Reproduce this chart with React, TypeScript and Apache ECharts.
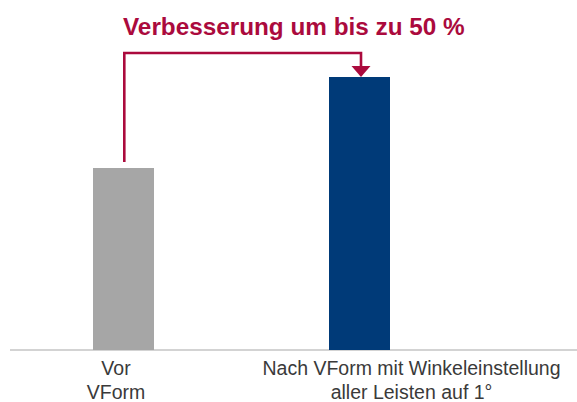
import React, { useEffect, useRef } from "react";
import * as echarts from "echarts";

const categories: string[] = ["Vor\nVForm", "Nach VForm mit Winkeleinstellung\naller Leisten auf 1°"];
const values: number[] = [100, 150];
const barColors: string[] = ["#a6a6a6", "#003a78"];
const titleText = "Verbesserung um bis zu 50 %";

const RED = "#ab0a3d";
const FONT = "Liberation Sans, Arial, sans-serif";

// per-category horizontal shift of the label text (the reference's labels are not centred on the bars)
const labelPad: number[][] = [
  [0, 15, 0, 0],
  [0, 0, 0, 104],
];

export default function App() {
  const ref = useRef<HTMLDivElement>(null);
  useEffect(() => {
    document.body.style.margin = "0";
    if (!ref.current) return;
    const chart = echarts.init(ref.current, null, { renderer: "svg" });
    const baseLine = {
      type: "line",
      shape: { x1: 10, y1: 350, x2: 577, y2: 350 },
      style: { stroke: "#c4c4c4", lineWidth: 1.5 },
    };
    chart.setOption({
      animation: false,
      backgroundColor: "#ffffff",
      textStyle: { fontFamily: FONT },
      title: {
        text: titleText,
        left: 123,
        top: 14.5,
        padding: 0,
        textStyle: { color: RED, fontSize: 24.3, fontWeight: "bold", fontFamily: FONT },
      },
      grid: { left: 5.5, width: 472, top: 77, bottom: 52, containLabel: false, outerBoundsMode: "none" },
      xAxis: {
        type: "category",
        data: categories,
        axisLine: { show: false },
        axisTick: { show: false },
        axisLabel: {
          interval: 0,
          margin: 6,
          formatter: (v: string) => {
            const idx = categories.indexOf(v);
            return v
              .split("\n")
              .map((line) => `{p${idx}|${line}}`)
              .join("\n");
          },
          rich: {
            p0: { color: "#3a3a3a", fontSize: 19.5, lineHeight: 24, fontFamily: FONT, padding: labelPad[0] },
            p1: { color: "#3a3a3a", fontSize: 19.5, lineHeight: 24, fontFamily: FONT, padding: labelPad[1] },
          },
        },
      },
      yAxis: { type: "value", min: 0, max: 150, show: false, splitLine: { show: false } },
      series: [
        {
          type: "bar",
          barWidth: 61,
          data: values.map((v, i) => ({ value: v, itemStyle: { color: barColors[i] } })),
        },
      ],
      graphic: [baseLine],
    });
    const p1 = chart.convertToPixel({ seriesIndex: 0 }, [0, values[0]]) as number[];
    const p2 = chart.convertToPixel({ seriesIndex: 0 }, [1, values[1]]) as number[];
    const lineY = 53;
    const ax = p2[0] + 1.5;
    chart.setOption({
      graphic: [
        baseLine,
        {
          type: "polyline",
          shape: { points: [[p1[0] + 0.8, p1[1] - 6], [p1[0] + 0.8, lineY], [ax, lineY], [ax, p2[1] - 10]] },
          style: { stroke: RED, lineWidth: 2.6, fill: "none" },
        },
        {
          type: "polygon",
          shape: { points: [[ax - 9.5, p2[1] - 11], [ax + 9.5, p2[1] - 11], [ax, p2[1]]] },
          style: { fill: RED },
        },
      ],
    });
    return () => chart.dispose();
  }, []);
  return <div ref={ref} style={{ width: 577, height: 402 }} />;
}
